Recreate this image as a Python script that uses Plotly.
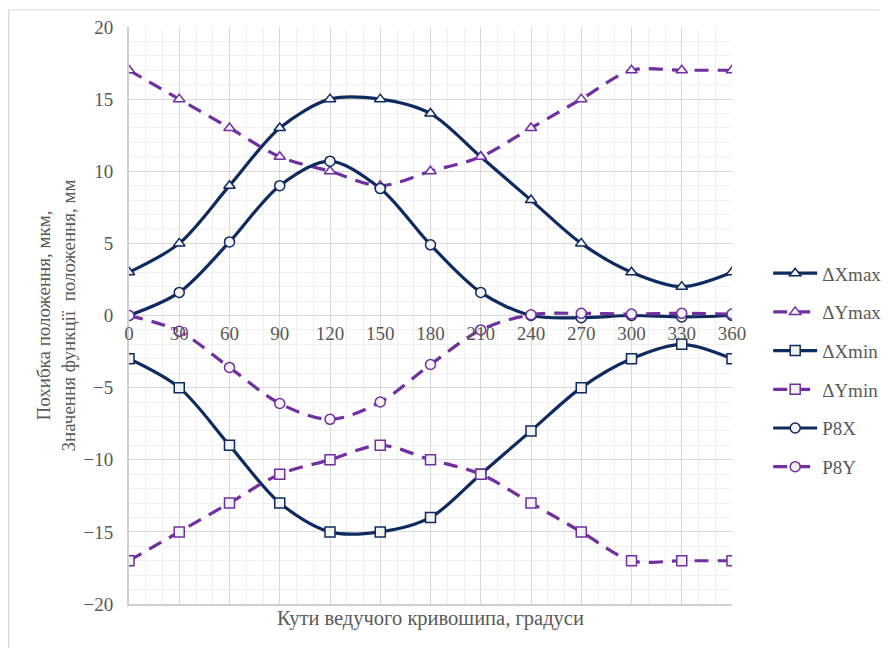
import plotly.graph_objects as go

angles = [0, 30, 60, 90, 120, 150, 180, 210, 240, 270, 300, 330, 360]
dx_max = [3, 5, 9, 13, 15, 15, 14, 11, 8, 5, 3, 2, 3]
dy_max = [17, 15, 13, 11, 10, 9, 10, 11, 13, 15, 17, 17, 17]
dx_min = [-3, -5, -9, -13, -15, -15, -14, -11, -8, -5, -3, -2, -3]
dy_min = [-17, -15, -13, -11, -10, -9, -10, -11, -13, -15, -17, -17, -17]
p8x = [0, 1.6, 5.1, 9.0, 10.7, 8.8, 4.9, 1.6, 0.0, -0.15, 0.0, -0.1, 0.0]
p8y = [0, -1.1, -3.6, -6.1, -7.2, -6.0, -3.4, -1.0, 0.05, 0.15, 0.1, 0.15, 0.1]
x_ticks = [0, 30, 60, 90, 120, 150, 180, 210, 240, 270, 300, 330, 360]

NAVY = "#0e2a5e"
PURPLE = "#7030a0"
FILL = "#f2f2f2"
TXT = "#595959"
FONT = "Liberation Serif"
DASH = "14px,9px"

series = [
    ("ΔXmax", dx_max, NAVY, "solid", "triangle-up"),
    ("ΔYmax", dy_max, PURPLE, DASH, "triangle-up"),
    ("ΔXmin", dx_min, NAVY, "solid", "square"),
    ("ΔYmin", dy_min, PURPLE, DASH, "square"),
    ("P8X", p8x, NAVY, "solid", "circle"),
    ("P8Y", p8y, PURPLE, DASH, "circle"),
]

fig = go.Figure()
for name, vals, col, dash, sym in series:
    fig.add_trace(go.Scatter(
        x=angles, y=vals, name=name, mode="lines+markers",
        line=dict(color=col, width=3.2, dash=dash, shape="spline", smoothing=0.9),
        marker=dict(symbol=sym, size=10, color=FILL, line=dict(color=col, width=1.5)),
        legendgroup=name,
    ))

# invisible trace for the overlay x axis that carries tick labels at y=0
fig.add_trace(go.Scatter(x=[0, 360], y=[0, 0], xaxis="x2", mode="markers",
                         marker=dict(opacity=0), showlegend=False, hoverinfo="skip"))

fig.update_layout(
    width=892, height=648,
    margin=dict(l=121, r=168, t=19, b=52, autoexpand=False),
    paper_bgcolor="white", plot_bgcolor="white",
    font=dict(family=FONT, size=19, color=TXT),
    showlegend=True,
    legend=dict(x=1.06, y=0.606, xanchor="left", yanchor="top",
                font=dict(family=FONT, size=19, color=TXT),
                tracegroupgap=11, itemwidth=44, bgcolor="rgba(0,0,0,0)"),
    xaxis=dict(range=[0, 360], dtick=30, tick0=0, showticklabels=False,
               automargin=False,
               showgrid=True, gridcolor="#d9d9d9", gridwidth=1,
               minor=dict(dtick=10, showgrid=True, gridcolor="#efefef", gridwidth=1),
               showline=True, linecolor="#d0d0d0", linewidth=2, zeroline=False,
               ticks="",
               title=dict(text="Кути ведучого кривошипа, градуси", standoff=6,
                          font=dict(family=FONT, size=20.5, color=TXT))),
    xaxis2=dict(overlaying="x", anchor="free", position=0.5, range=[0, 360],
                automargin=False,
                tickvals=x_ticks, ticktext=[str(v) for v in x_ticks],
                showgrid=False, showline=False, zeroline=False, ticks="",
                ticklabelstandoff=4,
                tickfont=dict(family=FONT, size=19, color=TXT)),
    yaxis=dict(range=[-20, 20], dtick=5, tick0=0, automargin=False,
               showgrid=True, gridcolor="#d9d9d9", gridwidth=1,
               minor=dict(dtick=1, showgrid=True, gridcolor="#efefef", gridwidth=1),
               showline=True, linecolor="#d0d0d0", linewidth=2, zeroline=False,
               ticks="", ticklabelstandoff=10,
               tickfont=dict(family=FONT, size=19, color=TXT),
               title=dict(text="Похибка положення, мкм,<br>Значення функції  положення, мм",
                          standoff=3, font=dict(family=FONT, size=19, color=TXT))),
    shapes=[
        dict(type="line", xref="paper", yref="paper", x0=-0.2, x1=-0.2, y0=-0.1, y1=1.03,
             line=dict(color="#d9d9d9", width=2)),
        dict(type="line", xref="paper", yref="paper", x0=-0.2, x1=1.245, y0=1.03, y1=1.03,
             line=dict(color="#e6e6e6", width=1.5)),
    ],
)

fig.write_html("out.html")
